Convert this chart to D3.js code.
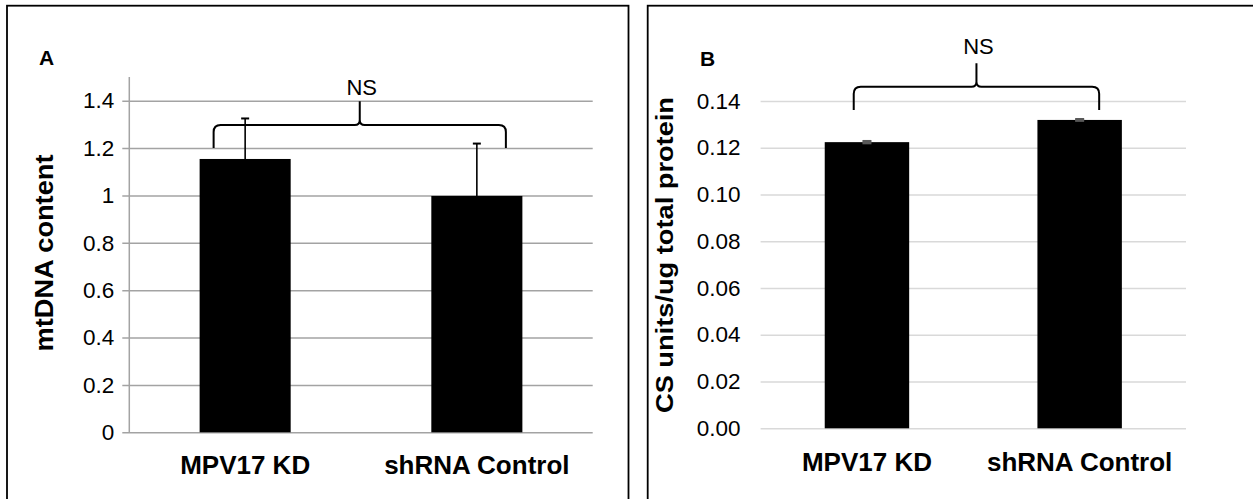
<!DOCTYPE html>
<html>
<head>
<meta charset="utf-8">
<script src="https://cdn.jsdelivr.net/npm/d3@7"></script>
<style>
  body { margin: 0; background: #fff; }
  text { font-family: Arial, "Liberation Sans", sans-serif; fill: #000; }
</style>
</head>
<body>
<div id="chart"></div>
<script>
// values
var categories = ["MPV17 KD", "shRNA Control"];

var mtdnaValues = [1.154, 0.998];
var mtdnaErrors = [0.171, 0.221];
var mtdnaTicks = [0, 0.2, 0.4, 0.6, 0.8, 1, 1.2, 1.4];

var csValues = [0.1224, 0.1319];
var csErrors = [0.0004, 0.0003];
var csTicks = [0, 0.02, 0.04, 0.06, 0.08, 0.10, 0.12, 0.14];

var svg = d3.select("#chart").append("svg")
    .attr("width", 1253)
    .attr("height", 499);

// panel frames (bottom edge runs off the picture)
svg.append("rect").attr("x", 7).attr("y", 5.7).attr("width", 621.5).attr("height", 520)
    .attr("fill", "none").attr("stroke", "#000").attr("stroke-width", 1.8);
svg.append("rect").attr("x", 647.7).attr("y", 5.7).attr("width", 620).attr("height", 520)
    .attr("fill", "none").attr("stroke", "#000").attr("stroke-width", 1.8);

function bracePath(x0, x1, yb, yl, yt) {
    var xc = (x0 + x1) / 2, r = 7, rc = 5;
    return "M" + x0 + "," + yb +
        " L" + x0 + "," + (yl + r) +
        " Q" + x0 + "," + yl + " " + (x0 + r) + "," + yl +
        " L" + (xc - rc) + "," + yl +
        " Q" + xc + "," + yl + " " + xc + "," + (yl - rc) +
        " L" + xc + "," + yt +
        " M" + xc + "," + (yl - rc) +
        " Q" + xc + "," + yl + " " + (xc + rc) + "," + yl +
        " L" + (x1 - r) + "," + yl +
        " Q" + x1 + "," + yl + " " + x1 + "," + (yl + r) +
        " L" + x1 + "," + yb;
}

function drawPanel(opt) {
    var g = svg.append("g");

    var x = d3.scaleBand()
        .domain(categories)
        .range([opt.left, opt.right])
        .paddingInner(opt.gap)
        .paddingOuter(opt.gap / 2);

    var y = d3.scaleLinear()
        .domain([0, opt.max])
        .range([opt.bottom, opt.bottom - (opt.bottom - opt.top) * opt.max / d3.max(opt.ticks)]);

    // gridlines + tick labels
    var axis = g.append("g")
        .attr("transform", "translate(" + opt.left + ",0)")
        .call(d3.axisLeft(y)
            .tickValues(opt.ticks)
            .tickSize(-(opt.right - opt.left))
            .tickPadding(opt.tickPad)
            .tickFormat(opt.fmt));
    axis.select(".domain").remove();
    axis.selectAll(".tick line")
        .attr("x1", opt.tickOut ? -7 : 0)
        .attr("x2", opt.right - opt.left)
        .attr("stroke", opt.gridColor)
        .attr("stroke-width", 1.5);
    axis.selectAll(".tick text")
        .style("font-size", "22.5px")
        .attr("fill", "#000");

    if (opt.axisLine) {
        g.append("line")
            .attr("x1", opt.left).attr("x2", opt.left)
            .attr("y1", y(0)).attr("y2", y(opt.max))
            .attr("stroke", opt.gridColor).attr("stroke-width", 1.5);
    }

    // bars
    g.selectAll(".bar")
        .data(opt.values)
        .enter()
        .append("rect")
        .attr("x", (d, i) => x(categories[i]))
        .attr("y", d => y(d))
        .attr("width", x.bandwidth())
        .attr("height", d => y(0) - y(d))
        .attr("fill", "#000");

    // error bars
    opt.values.forEach(function (d, i) {
        var cx = x(categories[i]) + x.bandwidth() / 2;
        var e = opt.errors[i];
        g.append("line")
            .attr("x1", cx).attr("x2", cx)
            .attr("y1", y(d - e)).attr("y2", y(d + e))
            .attr("stroke", opt.errColor).attr("stroke-width", opt.errWidth);
        [d + e, d - e].forEach(function (v) {
            g.append("line")
                .attr("x1", cx - opt.capHalf).attr("x2", cx + opt.capHalf)
                .attr("y1", y(v)).attr("y2", y(v))
                .attr("stroke", opt.errColor).attr("stroke-width", opt.capStroke);
        });
    });

    // x category labels
    categories.forEach(function (c) {
        g.append("text")
            .attr("x", x(c) + x.bandwidth() / 2)
            .attr("y", opt.catY)
            .attr("text-anchor", "middle")
            .style("font-size", "26px")
            .style("font-weight", "bold")
            .text(c);
    });

    // y title
    g.append("text")
        .attr("transform", "translate(" + opt.titleX + "," + opt.titleY + ") rotate(-90)")
        .attr("text-anchor", "middle")
        .attr("textLength", opt.titleLen)
        .attr("lengthAdjust", "spacingAndGlyphs")
        .style("font-size", opt.titleSize + "px")
        .style("font-weight", "bold")
        .text(opt.title);

    // panel letter
    g.append("text")
        .attr("x", opt.letterX).attr("y", opt.letterY)
        .style("font-size", "21px")
        .style("font-weight", "bold")
        .text(opt.letter);

    // NS bracket
    var b0 = x(categories[0]) + opt.braceIn[0];
    var b1 = x(categories[1]) + x.bandwidth() - opt.braceIn[1];
    g.append("path")
        .attr("d", bracePath(b0, b1, y(opt.brace[0]), y(opt.brace[1]), y(opt.brace[2])))
        .attr("fill", "none")
        .attr("stroke", "#000")
        .attr("stroke-width", 2);
    g.append("text")
        .attr("x", (b0 + b1) / 2 + 2)
        .attr("y", opt.nsY)
        .attr("text-anchor", "middle")
        .style("font-size", "22px")
        .text("NS");
}

drawPanel({
    left: 129.3, right: 592.7, top: 100.7, bottom: 432.3,
    max: 1.5, ticks: mtdnaTicks, values: mtdnaValues, errors: mtdnaErrors,
    gap: 0.607, fmt: d => String(+d.toFixed(1)),
    tickOut: true, tickPad: 15, gridColor: "#a3a3a3", axisLine: true,
    errColor: "#000", errWidth: 1.6, capHalf: 4, capStroke: 2,
    catY: 474, title: "mtDNA content", titleX: 53, titleY: 253, titleSize: 25, titleLen: 197,
    letter: "A", letterX: 39, letterY: 65,
    braceIn: [14, 16.5], brace: [1.2, 1.297, 1.398], nsY: 95
});

drawPanel({
    left: 760.6, right: 1186, top: 101, bottom: 428.3,
    max: 0.14, ticks: csTicks, values: csValues, errors: csErrors,
    gap: 0.603, fmt: d => d.toFixed(2),
    tickOut: false, tickPad: 20, gridColor: "#d9d9d9", axisLine: false,
    errColor: "#595959", errWidth: 2, capHalf: 4.5, capStroke: 2.5,
    catY: 470.5, title: "CS units/ug total protein", titleX: 673, titleY: 255, titleSize: 23, titleLen: 316,
    letter: "B", letterX: 700, letterY: 66,
    braceIn: [29, 22.7], brace: [0.1361, 0.1461, 0.1562], nsY: 54
});
</script>
</body>
</html>
